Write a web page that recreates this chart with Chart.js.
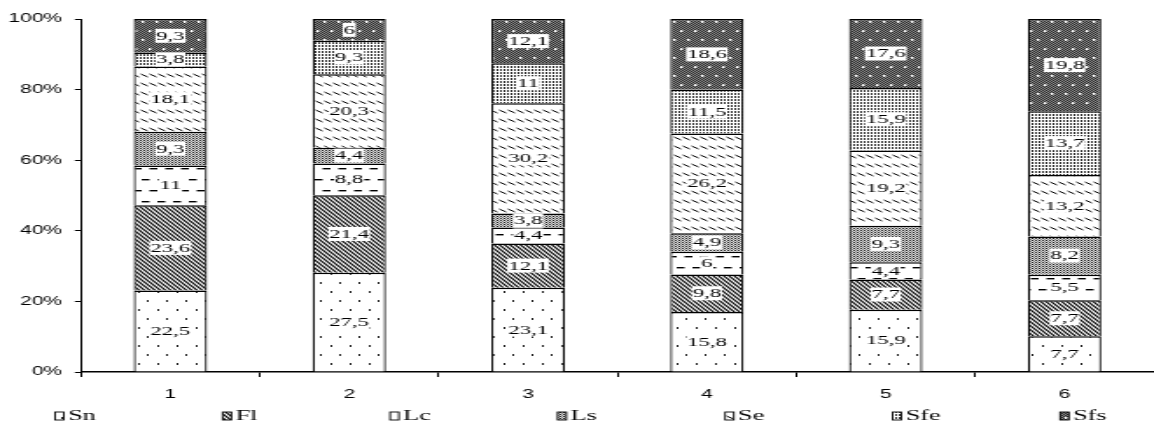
<!DOCTYPE html>
<html lang="en">
<head>
    <meta charset="UTF-8">
    <title>Stacked composition</title>
    <script src="https://cdn.jsdelivr.net/npm/chart.js"></script>
    <style>
        html, body { margin: 0; padding: 0; background: #fff; }
    </style>
</head>
<body>
    <!-- the chart is drawn narrow and stretched sideways, like the source picture -->
    <canvas id="chart" width="660" height="421" style="display:block;width:1154px;height:421px"></canvas>

    <script>
        const categories = ['1', '2', '3', '4', '5', '6'];
        const seriesNames = ['Sn', 'Fl', 'Lc', 'Ls', 'Se', 'Sfe', 'Sfs'];
        const sn  = [22.5, 27.5, 23.1, 15.8, 15.9, 7.7];
        const fl  = [23.6, 21.4, 12.1, 9.8, 7.7, 7.7];
        const lc  = [11, 8.8, 4.4, 6, 4.4, 5.5];
        const ls  = [9.3, 4.4, 3.8, 4.9, 9.3, 8.2];
        const se  = [18.1, 20.3, 30.2, 26.2, 19.2, 13.2];
        const sfe = [3.8, 9.3, 11, 11.5, 15.9, 13.7];
        const sfs = [9.3, 6, 12.1, 18.6, 17.6, 19.8];
        const yTicks = [0, 20, 40, 60, 80, 100];

        const series = [sn, fl, lc, ls, se, sfe, sfs];

        // column totals, so every bar fills 100%
        const totals = categories.map((c, j) => series.reduce((s, arr) => s + arr[j], 0));

        const canvas = document.getElementById('chart');
        const ctx = canvas.getContext('2d');

        function makePattern(w, h, draw) {
            const c = document.createElement('canvas');
            c.width = w;
            c.height = h;
            const p = c.getContext('2d');
            draw(p);
            return ctx.createPattern(c, 'repeat');
        }

        const patterns = [
            // Sn: sparse dots
            makePattern(11, 18, p => {
                p.fillStyle = '#fff'; p.fillRect(0, 0, 11, 18);
                p.fillStyle = '#222';
                p.fillRect(2, 3, 1, 2);
                p.fillRect(7, 12, 1, 2);
            }),
            // Fl: dense downward diagonal
            makePattern(3, 4, p => {
                p.fillStyle = '#fff'; p.fillRect(0, 0, 3, 4);
                p.strokeStyle = '#000'; p.lineWidth = 1.1;
                for (const k of [-3, 0, 3]) {
                    p.beginPath(); p.moveTo(k - 3, -4); p.lineTo(k + 6, 8); p.stroke();
                }
            }),
            // Lc: dashed horizontal
            makePattern(9, 22, p => {
                p.fillStyle = '#fff'; p.fillRect(0, 0, 9, 22);
                p.fillStyle = '#000';
                p.fillRect(0, 3, 4.5, 1.4);
                p.fillRect(4.5, 14, 4.5, 1.4);
            }),
            // Ls: fine stipple
            makePattern(2, 2, p => {
                p.fillStyle = '#ddd'; p.fillRect(0, 0, 2, 2);
                p.fillStyle = '#222'; p.fillRect(0, 0, 1, 1);
                p.fillStyle = '#888'; p.fillRect(1, 1, 1, 1);
            }),
            // Se: dashed downward diagonal
            makePattern(5, 9, p => {
                p.fillStyle = '#fff'; p.fillRect(0, 0, 5, 9);
                p.strokeStyle = '#000'; p.lineWidth = 1;
                p.beginPath(); p.moveTo(0.5, 2); p.lineTo(4.5, 5); p.stroke();
            }),
            // Sfe: dotted vertical
            makePattern(2, 3, p => {
                p.fillStyle = '#fff'; p.fillRect(0, 0, 2, 3);
                p.fillStyle = '#333'; p.fillRect(0, 0, 1, 2);
            }),
            // Sfs: dark stipple with white dots
            makePattern(8, 18, p => {
                for (let x = 0; x < 8; x++) {
                    for (let y = 0; y < 18; y++) {
                        p.fillStyle = (x + y) % 2 === 0 ? '#2a2a2a' : '#8a8a8a';
                        p.fillRect(x, y, 1, 1);
                    }
                }
                p.fillStyle = '#fff';
                p.fillRect(1, 3, 1.4, 2);
                p.fillRect(5, 12, 1.4, 2);
            })
        ];

        const datasets = seriesNames.map((name, i) => ({
            label: name,
            data: series[i].map((v, j) => v / totals[j] * 100),
            raw: series[i],
            backgroundColor: patterns[i],
            borderColor: '#000',
            borderWidth: { top: 1.5, bottom: 0, left: 1.2, right: 1.2 },
            borderSkipped: false,
            barPercentage: 0.41,
            categoryPercentage: 1
        }));

        // value boxes in the middle of each segment
        const valueLabels = {
            id: 'valueLabels',
            afterDatasetsDraw(chart) {
                const c = chart.ctx;
                c.save();
                c.font = '13px "Liberation Serif"';
                c.textAlign = 'center';
                c.textBaseline = 'middle';
                chart.data.datasets.forEach((ds, i) => {
                    chart.getDatasetMeta(i).data.forEach((bar, j) => {
                        const txt = String(ds.raw[j]).replace('.', ',');
                        const cy = (bar.y + bar.base) / 2;
                        const w = c.measureText(txt).width + 1;
                        c.fillStyle = '#fff';
                        c.fillRect(bar.x - w / 2, cy - 7, w, 14);
                        c.fillStyle = '#000';
                        c.fillText(txt, bar.x, cy + 0.5);
                    });
                });
                c.restore();
            }
        };

        // legend spread along the bottom
        const bottomLegend = {
            id: 'bottomLegend',
            afterDraw(chart) {
                const c = chart.ctx;
                c.save();
                c.font = '15px "Liberation Serif"';
                c.textAlign = 'left';
                c.textBaseline = 'middle';
                chart.data.datasets.forEach((ds, i) => {
                    const bx = 31.5 + i * 95.8;
                    c.fillStyle = ds.backgroundColor;
                    c.fillRect(bx, 412, 5, 8);
                    c.strokeStyle = '#000';
                    c.lineWidth = 0.9;
                    c.strokeRect(bx, 412, 5, 8);
                    c.fillStyle = '#000';
                    c.fillText(ds.label, bx + 7.4, 416);
                });
                c.restore();
            }
        };

        new Chart(ctx, {
            type: 'bar',
            data: { labels: categories, datasets: datasets },
            options: {
                responsive: false,
                devicePixelRatio: 1,
                animation: false,
                layout: { padding: { top: 19, left: 0, right: 0, bottom: 0 } },
                plugins: {
                    legend: { display: false },
                    tooltip: { enabled: false }
                },
                scales: {
                    x: {
                        stacked: true,
                        afterFit(scale) { scale.height = 49; },
                        grid: {
                            display: true,
                            drawOnChartArea: false,
                            offset: true,
                            tickLength: 5,
                            color: '#000',
                            lineWidth: 1
                        },
                        border: { display: true, color: '#000', width: 1.5 },
                        ticks: {
                            color: '#000',
                            padding: 10,
                            font: { family: '"Liberation Sans"', size: 12 }
                        }
                    },
                    y: {
                        stacked: true,
                        min: yTicks[0],
                        max: yTicks[yTicks.length - 1],
                        afterFit(scale) { scale.width = 46.3; },
                        afterBuildTicks(scale) { scale.ticks = yTicks.map(v => ({ value: v })); },
                        grid: {
                            display: true,
                            drawOnChartArea: false,
                            tickLength: 3.5,
                            color: '#000',
                            lineWidth: 1
                        },
                        border: { display: true, color: '#000', width: 1 },
                        ticks: {
                            color: '#000',
                            padding: 7.3,
                            font: { family: '"Liberation Sans"', size: 12 },
                            callback: v => v + '%'
                        }
                    }
                }
            },
            plugins: [valueLabels, bottomLegend]
        });
    </script>
</body>
</html>
